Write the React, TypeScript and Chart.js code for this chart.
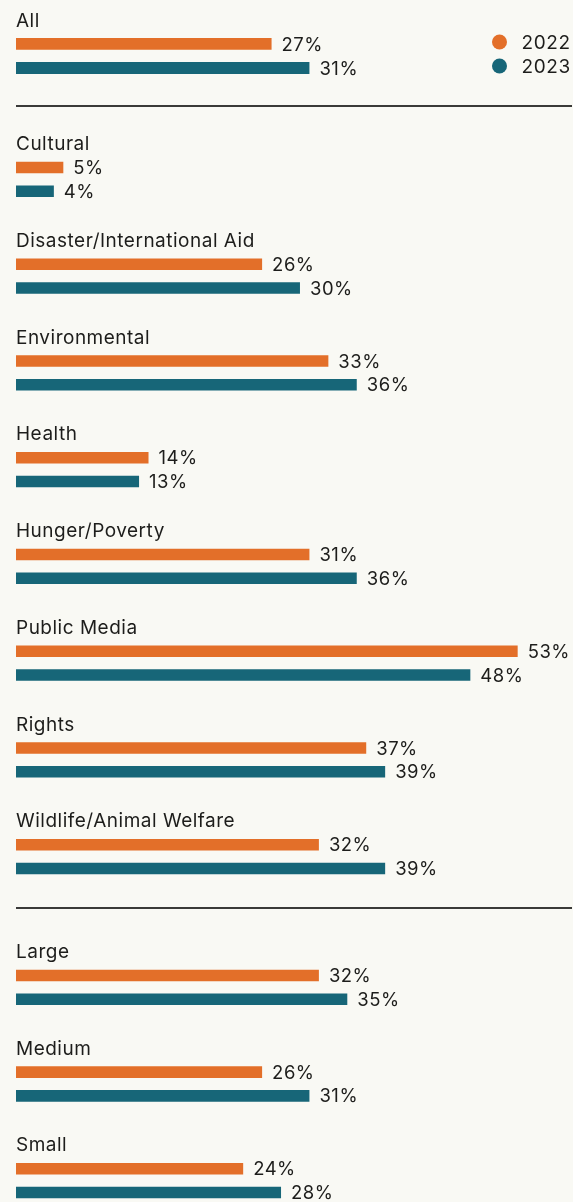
import React, { useEffect, useRef } from 'react';
import { Chart, registerables } from 'chart.js';

Chart.register(...registerables);

// ---- data ----
const seriesNames = ['2022', '2023'];
const seriesColors = ['#e36f29', '#176678'];

const overallCategories = ['All'];
const overall2022 = [27];
const overall2023 = [31];

const typeCategories = [
  'Cultural',
  'Disaster/International Aid',
  'Environmental',
  'Health',
  'Hunger/Poverty',
  'Public Media',
  'Rights',
  'Wildlife/Animal Welfare',
];
const type2022 = [5, 26, 33, 14, 31, 53, 37, 32];
const type2023 = [4, 30, 36, 13, 36, 48, 39, 39];

const sizeCategories = ['Large', 'Medium', 'Small'];
const size2022 = [32, 26, 24];
const size2023 = [35, 31, 28];

// ---- styling ----
const X_MAX = 58;
const FONT = 'Inter, "Open Sans", sans-serif';
const TEXT = '#1d1d1b';
const BG = '#f9f9f4';
const RULE = '#3a3a38';

const letterSpacingPlugin = {
  id: 'letterSpacing',
  beforeDraw(chart: any) {
    chart.ctx.letterSpacing = '0.5px';
  },
  afterDraw(chart: any) {
    chart.ctx.letterSpacing = '0px';
  },
};

const valueLabelPlugin = {
  id: 'valueLabels',
  afterDatasetsDraw(chart: any) {
    const ctx = chart.ctx;
    ctx.save();
    ctx.font = `18.5px ${FONT}`;
    ctx.fillStyle = TEXT;
    ctx.textAlign = 'left';
    ctx.textBaseline = 'middle';
    chart.data.datasets.forEach((ds: any, di: number) => {
      const meta = chart.getDatasetMeta(di);
      meta.data.forEach((bar: any, i: number) => {
        ctx.fillText(`${ds.data[i]}%`, bar.x + 10, bar.y + 1);
      });
    });
    ctx.restore();
  },
};

const circleLegendPlugin = {
  id: 'circleLegend',
  afterDraw(chart: any) {
    const ctx = chart.ctx;
    ctx.save();
    ctx.letterSpacing = '0.6px';
    ctx.font = `19px ${FONT}`;
    ctx.textAlign = 'left';
    ctx.textBaseline = 'middle';
    chart.data.datasets.forEach((ds: any, i: number) => {
      const cx = chart.width - 73.5;
      const cy = chart.chartArea.top + 35 + i * 24;
      ctx.beginPath();
      ctx.arc(cx, cy, 7.5, 0, Math.PI * 2);
      ctx.fillStyle = ds.backgroundColor;
      ctx.fill();
      ctx.fillStyle = TEXT;
      ctx.fillText(ds.label, cx + 22, cy + 1);
    });
    ctx.restore();
  },
};

type SectionProps = {
  categories: string[];
  a: number[];
  b: number[];
  top: number;
  height: number;
  padTop: number;
  legend?: boolean;
};

function BarSection({ categories, a, b, top, height, padTop, legend }: SectionProps) {
  const ref = useRef<HTMLCanvasElement | null>(null);
  useEffect(() => {
    if (!ref.current) return;
    const chart = new Chart(ref.current, {
      type: 'bar',
      data: {
        labels: categories,
        datasets: [
          {
            label: seriesNames[0],
            data: a,
            backgroundColor: seriesColors[0],
            categoryPercentage: 0.49,
            barPercentage: 0.49,
          },
          {
            label: seriesNames[1],
            data: b,
            backgroundColor: seriesColors[1],
            categoryPercentage: 0.49,
            barPercentage: 0.49,
          },
        ],
      },
      options: {
        indexAxis: 'y',
        animation: false,
        responsive: false,
        maintainAspectRatio: false,
        layout: { padding: { left: 16, right: 8, top: padTop, bottom: 0 } },
        plugins: { legend: { display: false }, tooltip: { enabled: false } },
        scales: {
          x: { display: false, min: 0, max: X_MAX },
          y: {
            grid: { display: false, drawTicks: false },
            border: { display: false },
            ticks: {
              mirror: true,
              padding: 0,
              labelOffset: -35,
              color: TEXT,
              font: { family: FONT, size: 19, lineHeight: 0.001 },
            },
          },
        },
      } as any,
      plugins: legend
        ? [letterSpacingPlugin, valueLabelPlugin, circleLegendPlugin]
        : [letterSpacingPlugin, valueLabelPlugin],
    } as any);
    return () => chart.destroy();
  }, []);
  return (
    <canvas
      ref={ref}
      width={573}
      height={height}
      style={{ position: 'absolute', left: 0, top, width: 573, height, display: 'block' }}
    />
  );
}

export default function App() {
  useEffect(() => {
    document.body.style.margin = '0';
    document.body.style.background = BG;
    document.body.style.overflow = 'hidden';
  }, []);
  return (
    <div style={{ position: 'relative', width: 573, height: 1202, overflow: 'hidden', background: BG }}>
      <BarSection categories={overallCategories} a={overall2022} b={overall2023} top={0} height={105} padTop={7} legend />
      <div style={{ position: 'absolute', left: 16, top: 105, width: 556, height: 2, background: RULE }} />
      <BarSection categories={typeCategories} a={type2022} b={type2023} top={131} height={774} padTop={0} />
      <div style={{ position: 'absolute', left: 16, top: 907, width: 556, height: 2, background: RULE }} />
      <BarSection categories={sizeCategories} a={size2022} b={size2023} top={939} height={290} padTop={0} />
    </div>
  );
}
